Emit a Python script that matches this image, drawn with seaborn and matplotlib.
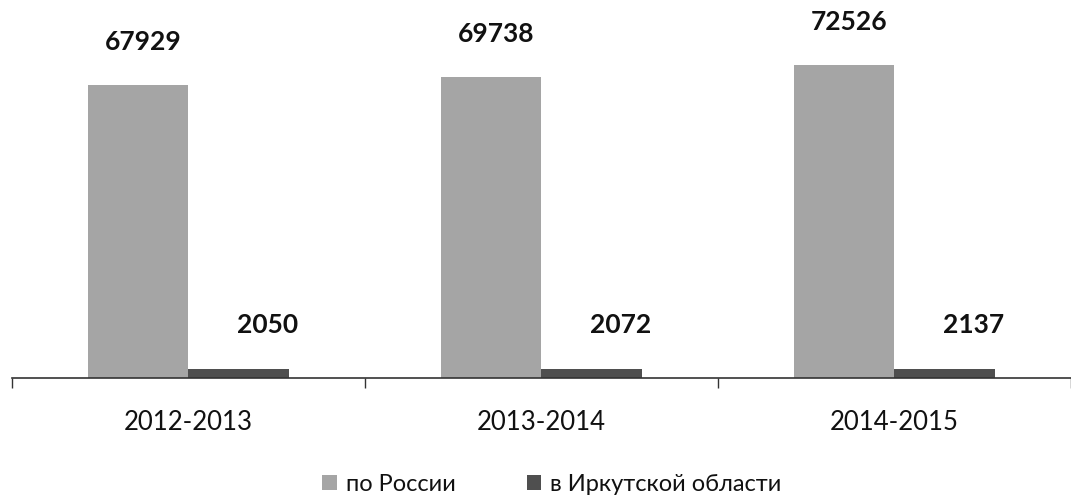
import matplotlib
matplotlib.use("Agg")
import matplotlib.pyplot as plt
import seaborn as sns
import pandas as pd

years = ["2012-2013", "2013-2014", "2014-2015"]
russia = [67929, 69738, 72526]
irkutsk = [2050, 2072, 2137]
series_names = ["по России", "в Иркутской области"]

df = pd.DataFrame({
    "year": years * 2,
    "value": russia + irkutsk,
    "series": [series_names[0]] * 3 + [series_names[1]] * 3,
})

sns.set_theme(style="white")
plt.rcParams['font.family'] = ['Lato', 'DejaVu Sans']

fig = plt.figure(figsize=(10.71, 4.97), dpi=100)
ax = fig.add_axes([0.0112, 0.2394, 0.9888, 0.694])

palette = {series_names[0]: "#a5a5a5", series_names[1]: "#4f4f4f"}
sns.barplot(data=df, x="year", y="value", hue="series", palette=palette,
            width=0.57, gap=0, ax=ax, saturation=1, edgecolor="none")

ax.set_xlim(-0.5, 2.5)
ax.set_ylim(0, 80000)
for s in ["top", "right", "left"]:
    ax.spines[s].set_visible(False)
ax.spines["bottom"].set_color("#333333")
ax.spines["bottom"].set_linewidth(1.2)
ax.set_yticks([])
ax.set_xlabel("")
ax.set_ylabel("")
ax.set_xticks([-0.5, 0.5, 1.5, 2.5], minor=True)
ax.tick_params(axis="x", which="major", length=0, labelsize=18.5, pad=23, colors="#111111")
ax.tick_params(axis="x", which="minor", length=7, width=1, color="#333333", bottom=True, direction="out")

# value labels
for cont, offs in zip(ax.containers, [(5, 43), (29, 44)]):
    for bar in cont:
        h = bar.get_height()
        ax.annotate(f"{int(round(h))}", (bar.get_x() + bar.get_width() / 2, h),
                    xytext=offs, textcoords="offset pixels",
                    ha="center", va="center", fontsize=19, fontweight="bold",
                    color="#111111", annotation_clip=False)

leg = ax.legend(loc="center", bbox_to_anchor=(0.51, -0.308), ncol=2, frameon=False,
                fontsize=17, handlelength=0.6, handleheight=0.6, handletextpad=0.4,
                columnspacing=3.0)
for t in leg.get_texts():
    t.set_color("#111111")

fig.savefig("out.png", dpi=100, facecolor="white")
